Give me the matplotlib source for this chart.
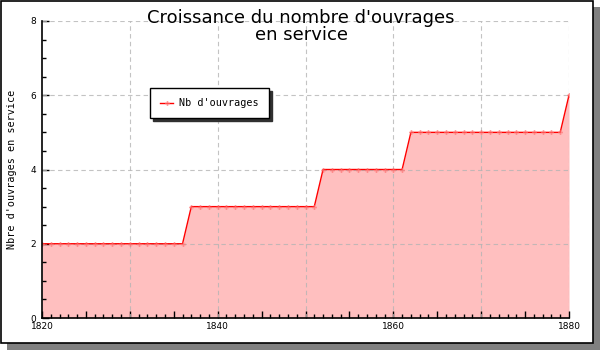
import numpy as np
import matplotlib
matplotlib.use("Agg")
import matplotlib.pyplot as plt
from matplotlib.ticker import MultipleLocator, FuncFormatter
from matplotlib.patches import Rectangle

# ouvrages en service par année
annees = list(range(1820, 1881))
nb_ouvrages = ([2] * 17      # 1820-1836
               + [3] * 15    # 1837-1851
               + [4] * 10    # 1852-1861
               + [5] * 18    # 1862-1879
               + [6])        # 1880

titre = "Croissance du nombre d'ouvrages\nen service"
label_y = "Nbre d'ouvrages en service"
label_serie = "Nb d'ouvrages"

fig = plt.figure(figsize=(6, 3.5), dpi=100)

# cadre + ombre
fig.patches.append(Rectangle((7 / 600, 0), 593 / 600, 343 / 350, transform=fig.transFigure,
                             facecolor="#808080", edgecolor="none", zorder=-3))
fig.patches.append(Rectangle((0.5 / 600, 7 / 350), 592 / 600, 342.5 / 350, transform=fig.transFigure,
                             facecolor="white", edgecolor="black", linewidth=1.2, zorder=-2))

ax = fig.add_axes([42 / 600, 32 / 350, 527 / 600, 297 / 350])
ax.set_facecolor("none")

ax.fill_between(annees, nb_ouvrages, 0, color="#ffbfbf", linewidth=0, zorder=1)
ax.plot(annees, nb_ouvrages, color="red", linewidth=1.0, zorder=3, label=label_serie,
        marker="P", markersize=3.5, markerfacecolor=(1, 0.45, 0.45, 0.7),
        markeredgecolor="none")

ax.set_xlim(1820, 1880)
ax.set_ylim(0, 8)

ax.xaxis.set_major_locator(MultipleLocator(5))
ax.xaxis.set_minor_locator(MultipleLocator(1))
ax.xaxis.set_major_formatter(FuncFormatter(lambda v, p: "%d" % v if int(round(v)) % 20 == 0 else ""))
ax.yaxis.set_major_locator(MultipleLocator(2))
ax.yaxis.set_minor_locator(MultipleLocator(0.5))

ax.tick_params(which="major", direction="in", length=5, width=1, labelsize=6.5, colors="black")
ax.tick_params(which="minor", direction="in", length=3, width=1)
ax.tick_params(axis="x", pad=3)
ax.tick_params(axis="y", pad=4)

# grille tous les 10 ans / 2 ouvrages
for x in range(1830, 1881, 10):
    ax.axvline(x, color="#b4b4b4", linestyle=(0, (4, 3)), linewidth=0.8, zorder=2, alpha=0.8)
for y in range(2, 9, 2):
    ax.axhline(y, color="#b4b4b4", linestyle=(0, (4, 3)), linewidth=0.8, zorder=2, alpha=0.8)

for s in ["top", "right"]:
    ax.spines[s].set_visible(False)
for s in ["left", "bottom"]:
    ax.spines[s].set_linewidth(1.2)
    ax.spines[s].set_zorder(5)

ax.set_ylabel(label_y, family="DejaVu Sans Mono", fontsize=7.3, labelpad=10)

fig.text(0.502, 0.975, titre, ha="center", va="top", fontsize=13,
         family="DejaVu Sans", linespacing=0.95)

leg = ax.legend(loc="upper left", bbox_to_anchor=(108 / 527, (318 - 88) / 297),
                prop={"family": "DejaVu Sans Mono", "size": 7.3},
                frameon=True, fancybox=False, shadow={"color": "#303030", "alpha": 1},
                borderpad=1.0, handlelength=1.3, handletextpad=0.6, borderaxespad=0)
leg.get_frame().set_edgecolor("black")
leg.get_frame().set_linewidth(1)

fig.savefig("out.png", dpi=100)
